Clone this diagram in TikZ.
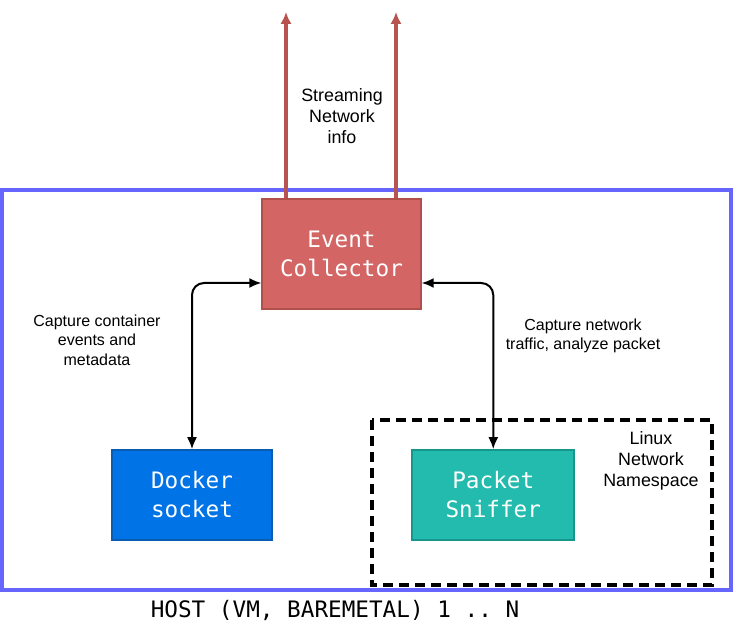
\documentclass[tikz,border=0pt]{standalone}
\usepackage{fontspec}
\setmainfont{Liberation Sans}
\setmonofont{DejaVu Sans Mono}
\usetikzlibrary{shapes,arrows.meta,positioning}
\definecolor{collfill}{HTML}{D46565}
\definecolor{colldraw}{HTML}{B14F4C}
\definecolor{dockfill}{HTML}{0073E6}
\definecolor{dockdraw}{HTML}{0A5CB0}
\definecolor{sniffill}{HTML}{22BBAD}
\definecolor{snifdraw}{HTML}{17978B}
\definecolor{hostblue}{HTML}{6666FF}
\definecolor{upred}{HTML}{B85450}
\tikzstyle{block} = [rectangle, draw, line width=1.2pt, text=white, align=center,
    font=\ttfamily\fontsize{17}{21.75}\selectfont, minimum width=120pt, minimum height=67.5pt]
\tikzstyle{lbl} = [align=center, font=\fontsize{12}{14.6}\selectfont]
\tikzstyle{biglbl} = [align=center, font=\fontsize{13.4}{15.8}\selectfont]
\tikzstyle{biline} = [draw, line width=1.5pt, rounded corners=9pt,
    {Latex[length=9pt,width=7.5pt]}-{Latex[length=9pt,width=7.5pt]}]
\tikzstyle{upline} = [draw, upred, line width=2.5pt, -{Latex[length=9pt,width=8.5pt]}]

\begin{document}
\begin{tikzpicture}[x=0.75pt, y=-0.75pt]
		\useasboundingbox (0,0) rectangle (733,623);
		\draw [hostblue, line width=2.6pt] (2,190) rectangle (731,590);
		\draw [line width=2.4pt, dash pattern=on 7.5pt off 4.5pt] (372,420) rectangle (712,585);
		
		\node [block, fill=collfill, draw=colldraw, minimum width=119pt, minimum height=82.5pt] (collector) at (341.5,254) {Event\\Collector};
		\node [block, fill=dockfill, draw=dockdraw] (docker) at (192,495) {Docker\\socket};
		\node [block, fill=sniffill, draw=snifdraw, minimum width=121.5pt, right=104pt of docker] (sniffer) {Packet\\Sniffer};
		
		\coordinate (outL) at (286,12);
		\coordinate (outR) at (396,12);
		\path [upline] (outL |- collector.north) -- (outL);
		\path [upline] (outR |- collector.north) -- (outR);
		\path [biline] ([yshift=-21.75pt]collector.west) -| (docker.north);
		\path [biline] ([yshift=-21.75pt]collector.east) -| (sniffer.north);
		
		\node [biglbl] (streaming) at (342,116) {Streaming\\Network\\info};
		\node [lbl] (capdocker) at (97,340) {Capture container\\events and\\metadata};
		\node [lbl] (capnet) at (583,336) {Capture network\\traffic, analyze packet};
		\node [biglbl] (netns) at (651,461) {Linux\\Network\\Namespace};
		\node [font=\ttfamily\fontsize{17}{21.75}\selectfont] (host) at (335,610) {HOST (VM, BAREMETAL) 1 .. N};
	\end{tikzpicture}
\end{document}
